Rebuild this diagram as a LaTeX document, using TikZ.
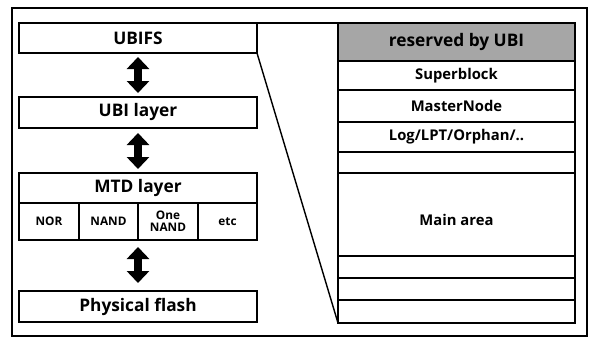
\documentclass[tikz,border=0pt]{standalone}
\usepackage{fontspec}
\setmainfont{Open Sans}
\usetikzlibrary{positioning, arrows.meta}

\tikzset{
    layer/.style={draw, line width=2.6pt, rectangle, align=center, inner sep=0pt, outer sep=0pt, minimum width=238pt, font=\fontsize{17.3}{19}\selectfont\bfseries},
    chip/.style={draw, line width=2.6pt, rectangle, align=center, inner sep=0pt, outer sep=0pt, minimum height=37pt, font=\fontsize{11.8}{13}\selectfont\bfseries},
    row/.style={draw, line width=1.3pt, rectangle, align=center, inner sep=0pt, outer sep=0pt, minimum width=237pt, font=\fontsize{14.8}{16}\selectfont\bfseries},
    updown/.style={{Triangle[width=22pt, length=12pt]}-{Triangle[width=22pt, length=12pt]}, line width=8pt},
}

\begin{document}
\begin{tikzpicture}[x=1pt, y=-1pt]
    \useasboundingbox (0, 0) rectangle (591, 338);
    \draw [line width=2pt] (12, 8) rectangle (587, 336);

    % left stack
    \node (ubifs) [layer, minimum height=30pt] at (138, 38) {UBIFS};
    \node (ubi) [layer, minimum height=31pt, below=44pt of ubifs] {UBI layer};
    \node (mtd) [layer, minimum height=30pt, below=45pt of ubi] {MTD layer};
    \node (nor) [chip, minimum width=60pt, anchor=north west] at (mtd.south west) {NOR};
    \node (nand) [chip, minimum width=59pt, right=0pt of nor] {NAND};
    \node (onenand) [chip, minimum width=60pt, right=0pt of nand] {One\\[-1pt]NAND};
    \node (etc) [chip, minimum width=59pt, right=0pt of onenand] {etc};
    \coordinate (cells) at (mtd.south |- nor.south);
    \node (flash) [layer, minimum height=31pt, below=51pt of cells] {Physical flash};

    \draw [updown, shorten <=4pt, shorten >=4pt] (ubifs.south) -- (ubi.north);
    \draw [updown, shorten <=5pt, shorten >=4pt] (ubi.south) -- (mtd.north);
    \draw [updown, shorten <=7pt, shorten >=8pt] (cells) -- (flash.north);

    % right column
    \node (rsv) [row, minimum height=38pt, fill=black!35, font=\fontsize{17.3}{19}\selectfont\bfseries] at (456.5, 42) {reserved by UBI};
    \node (sb) [row, minimum height=29pt, below=0pt of rsv] {Superblock};
    \node (mn) [row, minimum height=32pt, below=0pt of sb] {MasterNode};
    \node (log) [row, minimum height=30pt, below=0pt of mn] {Log/LPT/Orphan/..};
    \node (free) [row, minimum height=21pt, below=0pt of log] {};
    \node (main) [row, minimum height=83pt, below=0pt of free] {\raisebox{-7pt}[8pt][0pt]{Main area}};
    \node (e1) [row, minimum height=22pt, below=0pt of main] {};
    \node (e2) [row, minimum height=22pt, below=0pt of e1] {};
    \node (e3) [row, minimum height=23pt, below=0pt of e2] {};
    \draw [line width=2.6pt] (rsv.south west) -- (rsv.south east);
    \draw [line width=2.6pt] (rsv.north west) rectangle (e3.south east);

    \draw [line width=1.4pt] (ubifs.north east) -- (rsv.north west);
    \draw [line width=1.4pt] (ubifs.south east) -- (e3.south west);
\end{tikzpicture}
\end{document}
